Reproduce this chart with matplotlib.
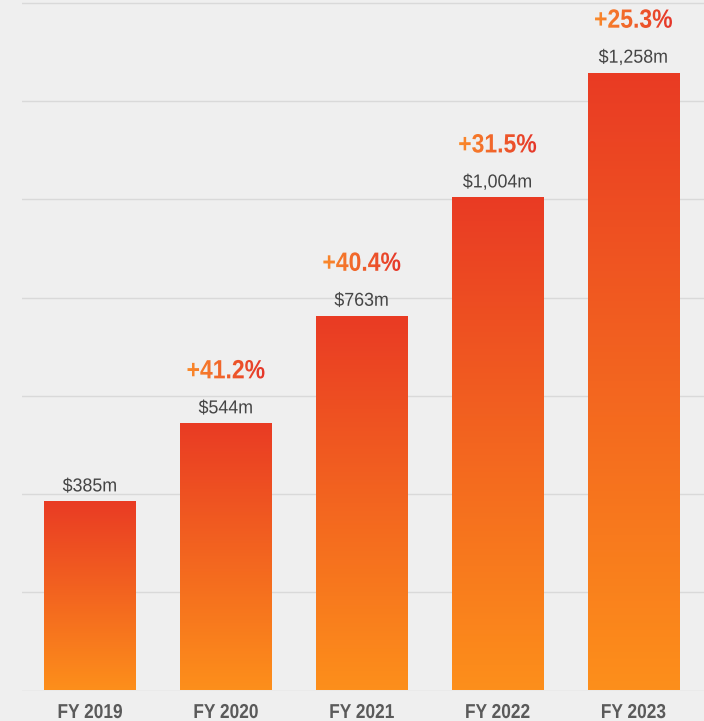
import numpy as np
import matplotlib
matplotlib.use('Agg')
import matplotlib.pyplot as plt
from matplotlib.patheffects import AbstractPathEffect
from matplotlib.transforms import Affine2D, TransformedPath
from matplotlib.colors import LinearSegmentedColormap, to_rgba

# data
years = ['FY 2019', 'FY 2020', 'FY 2021', 'FY 2022', 'FY 2023']
revenue = [385, 544, 763, 1004, 1258]
value_labels = ['$385m', '$544m', '$763m', '$1,004m', '$1,258m']
growth_labels = ['', '+41.2%', '+40.4%', '+31.5%', '+25.3%']

BG = '#efefef'
FONT = ['Liberation Sans', 'DejaVu Sans']


class GlyphFill(AbstractPathEffect):
    """Fill text glyphs with a left-to-right gradient, squeezed horizontally."""

    def __init__(self, left, right=None, xscale=1.0):
        super().__init__()
        self.left = np.array(to_rgba(left))
        self.right = np.array(to_rgba(right if right else left))
        self.xscale = xscale

    def draw_path(self, renderer, gc, tpath, affine, rgbFace=None):
        ext = tpath.get_extents(affine)
        cx = (ext.x0 + ext.x1) / 2
        aff = affine + Affine2D().translate(-cx, 0).scale(self.xscale, 1).translate(cx, 0)
        ext = tpath.get_extents(aff)
        x0, y0 = int(np.floor(ext.x0)), int(np.floor(ext.y0))
        w = int(np.ceil(ext.x1)) - x0 + 1
        h = int(np.ceil(ext.y1)) - y0 + 1
        t = np.linspace(0, 1, w)[:, None]
        row = self.left[None, :] * (1 - t) + self.right[None, :] * t
        img = (np.repeat(row[None, :, :], h, axis=0) * 255).astype(np.uint8)
        gc2 = renderer.new_gc()
        gc2.copy_properties(gc)
        gc2.set_clip_path(TransformedPath(tpath, aff))
        renderer.draw_image(gc2, x0, y0, img)
        gc2.restore()


fig = plt.figure(figsize=(7.04, 7.21), dpi=100, facecolor=BG)
ax = fig.add_axes([22 / 704, 30.5 / 721, 682 / 704, 690.5 / 721])
ax.set_facecolor(BG)

x = np.arange(len(years))
bar_cmap = LinearSegmentedColormap.from_list('bar', ['#fd8f1b', '#e93b24'])
bars = ax.bar(x, revenue, width=0.67, color='none', edgecolor='none', zorder=2)
for b in bars:
    grad = np.linspace(0, 1, 256)[:, None]
    im = ax.imshow(grad, cmap=bar_cmap, origin='lower', aspect='auto', zorder=2,
                   extent=(b.get_x(), b.get_x() + b.get_width(), 0, b.get_height()))
    im.set_clip_path(b)

for i, (v, lab, g) in enumerate(zip(revenue, value_labels, growth_labels)):
    ax.annotate(lab, (i, v), xytext=(0, 10), textcoords='offset pixels',
                ha='center', va='baseline', fontsize=13.5, color='#454545',
                family=FONT, zorder=3,
                path_effects=[GlyphFill('#454545', xscale=0.95)])
    if g:
        ax.annotate(g, (i, v), xytext=(0, 45), textcoords='offset pixels',
                    ha='center', va='baseline', fontsize=19, fontweight='bold',
                    family=FONT, zorder=3,
                    path_effects=[GlyphFill('#fa8a2b', '#e5352a', xscale=0.87)])

ax.set_xlim(-0.5, 4.52)
ax.set_ylim(0, 1406)
ax.set_yticks(range(0, 1401, 200))
ax.set_yticklabels([])
ax.yaxis.grid(True, color='#d9d9d9', lw=1)
ax.set_axisbelow(True)
ax.set_xticks(x)
ax.set_xticklabels(years, fontsize=14.5, fontweight='bold', color='#5a5a5a', family=FONT)
for t in ax.get_xticklabels():
    t.set_path_effects([GlyphFill('#5a5a5a', xscale=0.86)])
ax.tick_params(length=0, pad=9)
for s in ax.spines.values():
    s.set_visible(False)

fig.savefig('out.png', dpi=100, facecolor=BG)
